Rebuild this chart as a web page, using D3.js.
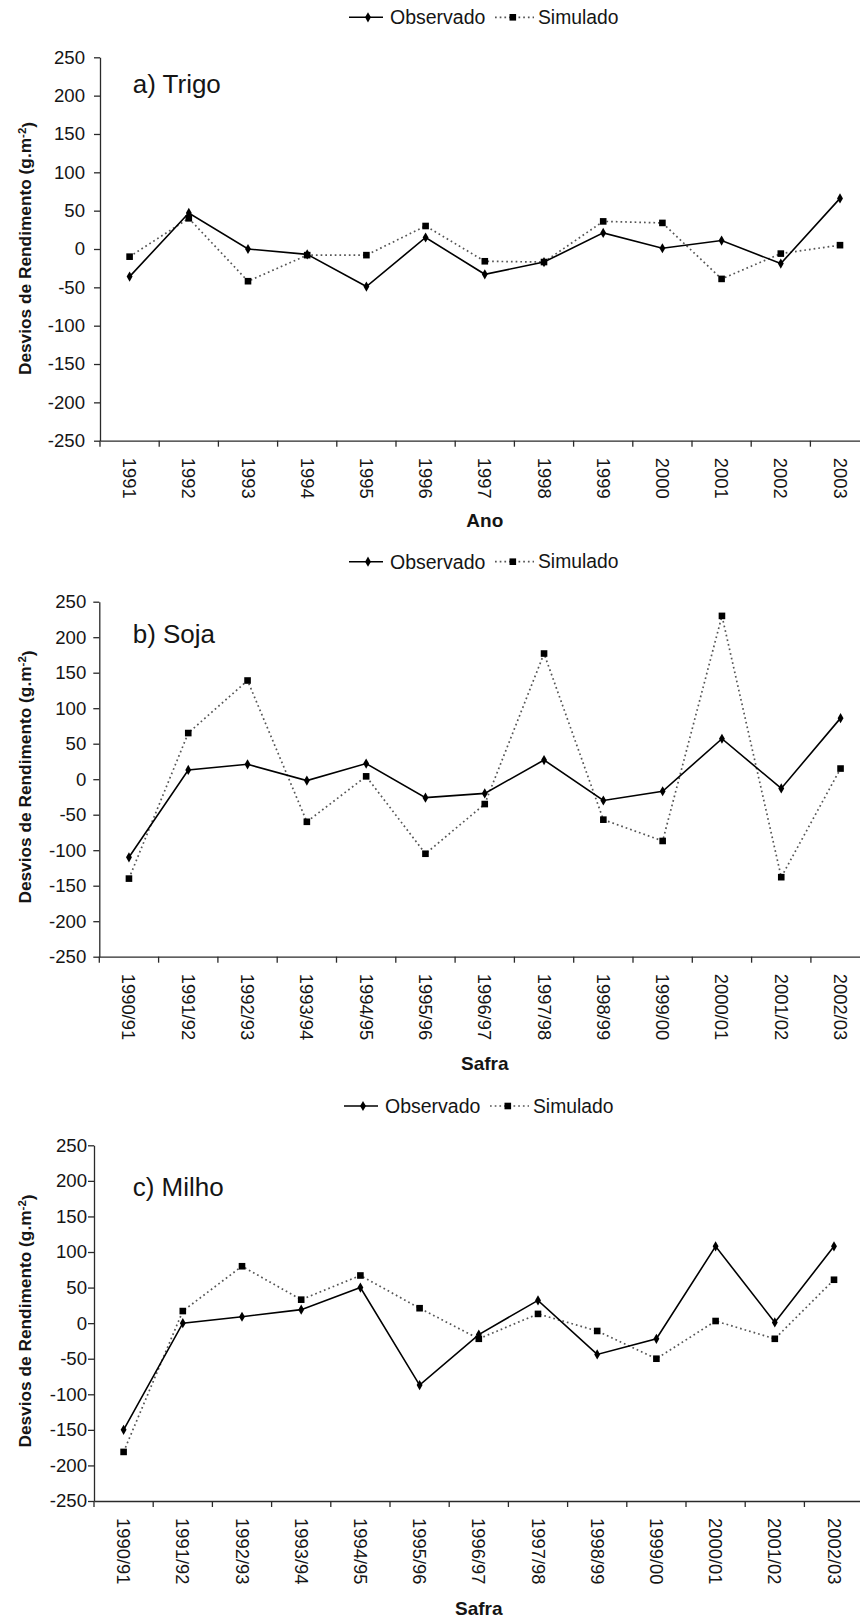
<!DOCTYPE html>
<html>
<head>
<meta charset="utf-8">
<script src="https://cdn.jsdelivr.net/npm/d3@7"></script>
<style>
  html, body { margin: 0; padding: 0; background: #fff; }
  svg { display: block; font-family: "Liberation Sans", Arial, sans-serif; }
</style>
</head>
<body>
<svg id="chart" width="860" height="1619"></svg>
<script>
// Categories
const anos = ["1991","1992","1993","1994","1995","1996","1997","1998","1999","2000","2001","2002","2003"];
const safras = ["1990/91","1991/92","1992/93","1993/94","1994/95","1995/96","1996/97","1997/98","1998/99","1999/00","2000/01","2001/02","2002/03"];

// Yield deviations (g.m-2)
const trigoObservado = [-36, 47, 0, -7, -49, 15, -33, -17, 21, 1, 11, -19, 66];
const trigoSimulado  = [-10, 40, -42, -8, -8, 30, -16, -17, 36, 34, -39, -6, 5];
const sojaObservado  = [-110, 13, 21, -2, 22, -26, -20, 27, -30, -17, 57, -13, 86];
const sojaSimulado   = [-140, 65, 139, -60, 4, -105, -35, 177, -57, -87, 230, -138, 15];
const milhoObservado = [-150, 0, 9, 19, 50, -87, -16, 32, -44, -22, 108, 1, 108];
const milhoSimulado  = [-181, 17, 80, 33, 67, 21, -22, 13, -11, -50, 3, -22, 61];

// Axis ticks and labels
const yTicks = [250, 200, 150, 100, 50, 0, -50, -100, -150, -200, -250];
const serieNomes = ["Observado", "Simulado"];
const yTitulo = "Desvios de Rendimento (g.m";

const panels = [
  { cats: anos,   obs: trigoObservado, sim: trigoSimulado, title: "a) Trigo", xTitle: "Ano",
    left: 100, top: 57.3, bottom: 440.7, step: 59.2, legendY: 17.3, legendX: 349,
    titleY: 92.7, xTitleY: 520, yTitleY: 248.5, labelGap: 9 },
  { cats: safras, obs: sojaObservado,  sim: sojaSimulado,  title: "b) Soja",  xTitle: "Safra",
    left: 99.3, top: 601.7, bottom: 956.7, step: 59.3, legendY: 561.7, legendX: 349,
    titleY: 643.3, xTitleY: 1063, yTitleY: 777, labelGap: 7 },
  { cats: safras, obs: milhoObservado, sim: milhoSimulado, title: "c) Milho", xTitle: "Safra",
    left: 94, top: 1145.3, bottom: 1501, step: 59.2, legendY: 1106, legendX: 344,
    titleY: 1196, xTitleY: 1608, yTitleY: 1321, labelGap: 1 }
];

const svg = d3.select("#chart");
const axisColor = "#2a2a2a";
const textColor = "#151515";

function diamond(sel) {
  return sel.attr("d", d3.symbol().type(d3.symbolDiamond).size(30));
}

panels.forEach(p => {
  const g = svg.append("g");
  const x = d3.scaleBand().domain(p.cats).range([p.left, p.left + p.step * p.cats.length]);
  const y = d3.scaleLinear().domain([-250, 250]).range([p.bottom, p.top]);
  const cx = c => x(c) + x.bandwidth() / 2;

  // Y axis
  const ya = g.append("g")
    .attr("transform", `translate(${p.left},0)`)
    .call(d3.axisLeft(y).tickValues(yTicks).tickFormat(d => String(d))
      .tickSize(6).tickSizeOuter(0).tickPadding(p.labelGap));
  ya.select(".domain").attr("stroke", axisColor).attr("stroke-width", 1.3);
  ya.selectAll(".tick line").attr("stroke", axisColor).attr("stroke-width", 1.3);
  ya.selectAll(".tick text").attr("fill", textColor).style("font-size", "18.6px");

  // X axis: labels at category centres, ticks at category boundaries
  const xa = g.append("g")
    .attr("transform", `translate(0,${p.bottom})`)
    .call(d3.axisBottom(x).tickSize(0).tickSizeOuter(0));
  xa.select(".domain").attr("stroke", axisColor).attr("stroke-width", 1.3);
  xa.selectAll(".tick text")
    .attr("fill", textColor).style("font-size", "18.4px")
    .attr("transform", "rotate(90)")
    .attr("x", 17).attr("y", 0).attr("dy", "0.35em")
    .style("text-anchor", "start");
  const bounds = d3.range(p.cats.length + 1).map(i => x.range()[0] + i * x.step());
  xa.selectAll("line.bound").data(bounds).join("line")
    .attr("class", "bound")
    .attr("x1", d => d).attr("x2", d => d)
    .attr("y1", 0).attr("y2", 6)
    .attr("stroke", axisColor).attr("stroke-width", 1.3);

  // Simulated series: dotted line with square markers; observed: solid with diamonds
  const line = d3.line().x(d => cx(d.c)).y(d => y(d.v));
  const simData = p.cats.map((c, i) => ({ c, v: p.sim[i] }));
  const obsData = p.cats.map((c, i) => ({ c, v: p.obs[i] }));

  g.append("path").datum(simData)
    .attr("d", line).attr("fill", "none")
    .attr("stroke", "#555").attr("stroke-width", 1.7)
    .attr("stroke-dasharray", "1.7,3");

  g.append("path").datum(obsData)
    .attr("d", line).attr("fill", "none")
    .attr("stroke", "#000").attr("stroke-width", 1.6);

  g.selectAll("rect.sim").data(simData).join("rect")
    .attr("class", "sim")
    .attr("x", d => cx(d.c) - 3.3).attr("y", d => y(d.v) - 3.3)
    .attr("width", 6.6).attr("height", 6.6).attr("fill", "#000");

  g.selectAll("path.obs").data(obsData).join("path")
    .attr("class", "obs")
    .call(diamond)
    .attr("transform", d => `translate(${cx(d.c)},${y(d.v)})`)
    .attr("fill", "#000");

  // Panel title
  g.append("text")
    .attr("x", 132.7).attr("y", p.titleY)
    .attr("fill", textColor).style("font-size", "26px")
    .text(p.title);

  // X axis title
  g.append("text")
    .attr("x", (x.range()[0] + x.range()[1]) / 2).attr("y", p.xTitleY).attr("dy", "0.35em")
    .attr("text-anchor", "middle").attr("fill", textColor)
    .style("font-size", "19px").style("font-weight", "bold")
    .text(p.xTitle);

  // Y axis title with superscript
  const yt = g.append("text")
    .attr("transform", `translate(31,${p.yTitleY}) rotate(-90)`)
    .attr("text-anchor", "middle").attr("fill", textColor)
    .style("font-size", "17.3px").style("font-weight", "bold");
  yt.append("tspan").text(yTitulo);
  yt.append("tspan").attr("dy", "-0.45em").style("font-size", "11.5px").text("-2");
  yt.append("tspan").attr("dy", "0.45em").text(")");

  // Legend
  const lg = g.append("g").attr("transform", `translate(${p.legendX},${p.legendY})`);
  lg.append("line").attr("x1", 0).attr("x2", 34).attr("y1", 0).attr("y2", 0)
    .attr("stroke", "#000").attr("stroke-width", 1.6);
  lg.append("path").call(diamond).attr("transform", "translate(19,0)").attr("fill", "#000");
  lg.append("text").attr("x", 41).attr("y", 0).attr("dy", "0.35em")
    .attr("fill", textColor).style("font-size", "19.5px").text(serieNomes[0]);
  lg.append("line").attr("x1", 146).attr("x2", 185).attr("y1", 0).attr("y2", 0)
    .attr("stroke", "#555").attr("stroke-width", 1.7).attr("stroke-dasharray", "1.7,3");
  lg.append("rect").attr("x", 160.5).attr("y", -3.3).attr("width", 6.6).attr("height", 6.6).attr("fill", "#000");
  lg.append("text").attr("x", 189).attr("y", 0).attr("dy", "0.35em")
    .attr("fill", textColor).style("font-size", "19.3px").text(serieNomes[1]);
});
</script>
</body>
</html>
